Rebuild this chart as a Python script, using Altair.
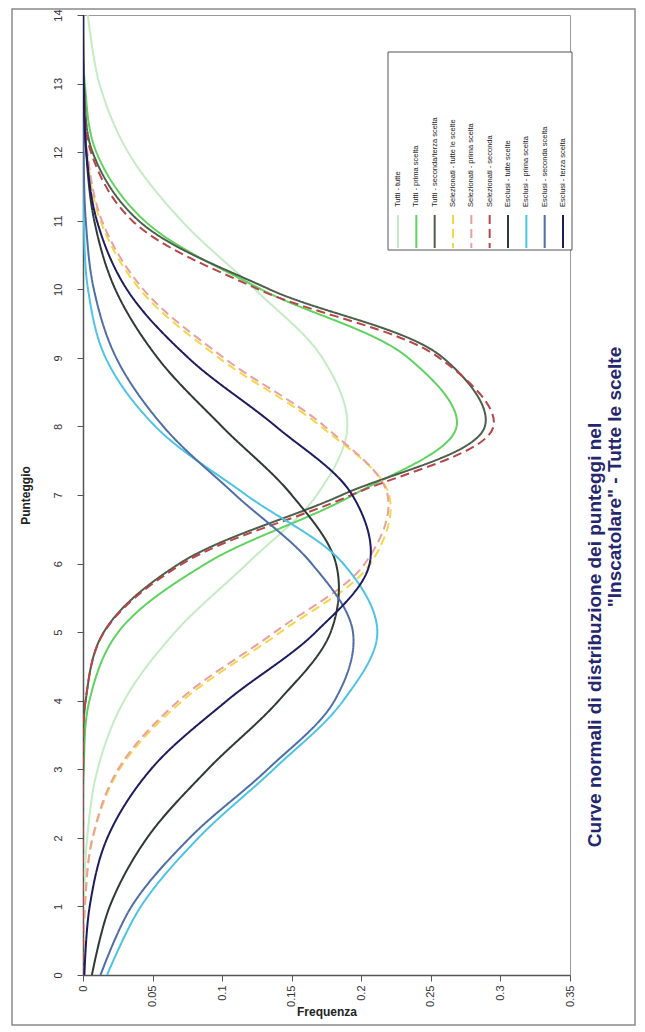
import altair as alt
import pandas as pd

punteggio = list(range(15))

series_names = [
    "Tutti - tutte",
    "Tutti - prima scelta",
    "Tutti - seconda/terza scelta",
    "Selezionati - tutte le scelte",
    "Selezionati - prima scelta",
    "Selezionati - seconda",
    "Esclusi - tutte scelte",
    "Esclusi - prima scelta",
    "Esclusi - seconda scelta",
    "Esclusi - terza scelta",
]

s_light_green = [0.0001, 0.0007, 0.0030, 0.0105, 0.0295, 0.0662, 0.1180, 0.1680, 0.1900, 0.1720, 0.1235, 0.0708, 0.0324, 0.0118, 0.0035]
s_green       = [0.0000, 0.0000, 0.0000, 0.0005, 0.0046, 0.0253, 0.0884, 0.1940, 0.2685, 0.2337, 0.1280, 0.0442, 0.0096, 0.0013, 0.0001]
s_dark_green  = [0.0000, 0.0000, 0.0000, 0.0001, 0.0019, 0.0149, 0.0693, 0.1860, 0.2888, 0.2588, 0.1340, 0.0400, 0.0069, 0.0007, 0.0000]
s_yellow      = [0.0002, 0.0014, 0.0071, 0.0263, 0.0715, 0.1420, 0.2066, 0.2200, 0.1710, 0.0976, 0.0408, 0.0125, 0.0028, 0.0005, 0.0001]
s_pink        = [0.0002, 0.0013, 0.0068, 0.0252, 0.0688, 0.1378, 0.2026, 0.2189, 0.1737, 0.1012, 0.0433, 0.0136, 0.0031, 0.0005, 0.0001]
s_red         = [0.0000, 0.0000, 0.0000, 0.0001, 0.0018, 0.0152, 0.0717, 0.1930, 0.2950, 0.2560, 0.1260, 0.0354, 0.0057, 0.0005, 0.0000]
s_dark_gray   = [0.0064, 0.0192, 0.0461, 0.0897, 0.1406, 0.1780, 0.1818, 0.1500, 0.0998, 0.0536, 0.0232, 0.0081, 0.0023, 0.0005, 0.0001]
s_cyan        = [0.0173, 0.0416, 0.0830, 0.1370, 0.1870, 0.2115, 0.1870, 0.1173, 0.0520, 0.0163, 0.0036, 0.0006, 0.0001, 0.0000, 0.0000]
s_steel       = [0.0126, 0.0349, 0.0767, 0.1327, 0.1807, 0.1940, 0.1643, 0.1096, 0.0577, 0.0239, 0.0078, 0.0020, 0.0004, 0.0001, 0.0000]
s_navy        = [0.0010, 0.0048, 0.0175, 0.0488, 0.1034, 0.1672, 0.2060, 0.1935, 0.1386, 0.0757, 0.0315, 0.0100, 0.0024, 0.0004, 0.0001]

all_series = [s_light_green, s_green, s_dark_green, s_yellow, s_pink, s_red,
              s_dark_gray, s_cyan, s_steel, s_navy]

colors = ["#c4ecc4", "#5fd35f", "#4d5e4a", "#f3d84a", "#eaa0a0", "#b8454a",
          "#2e3a34", "#4cc4e4", "#4f6ea6", "#1c1c5e"]
dashes = [[1, 0], [1, 0], [1, 0], [9, 5], [9, 5], [9, 5],
          [1, 0], [1, 0], [1, 0], [1, 0]]
widths = [2, 2, 2, 2.8, 2.8, 2.8, 2, 2, 2, 2]

freq_ticks = [0, 0.05, 0.1, 0.15, 0.2, 0.25, 0.3, 0.35]
punt_ticks = list(range(15))

title_lines = ["Curve normali di distribuzione dei punteggi nel",
               "\"Inscatolare\" - Tutte le scelte"]

rows = []
for name, vals in zip(series_names, all_series):
    for p, v in zip(punteggio, vals):
        rows.append({"series": name, "punteggio": p, "freq": v})
df = pd.DataFrame(rows)

FONT = "Liberation Sans"

color_scale = alt.Scale(domain=series_names, range=colors)
dash_scale = alt.Scale(domain=series_names, range=dashes)
width_scale = alt.Scale(domain=series_names, range=widths)

lines = alt.Chart(df).mark_line(interpolate="catmull-rom", clip=True).encode(
    x=alt.X("freq:Q", scale=alt.Scale(domain=[0, 0.35], nice=False, zero=True),
            axis=alt.Axis(values=freq_ticks, format=".2~f", labelAngle=270,
                          labelAlign="right", labelBaseline="middle",
                          labelPadding=4, title="Frequenza", titleAngle=0,
                          titleY=36, titleBaseline="middle", titleFontSize=12,
                          titleFontWeight="bold", grid=False)),
    y=alt.Y("punteggio:Q", scale=alt.Scale(domain=[0, 14], nice=False),
            axis=alt.Axis(values=punt_ticks, labelAngle=270,
                          labelAlign="center", labelBaseline="bottom",
                          labelPadding=14, title="Punteggio", titleAngle=270,
                          titleX=-58, titleY=480, titleAlign="center",
                          titleBaseline="middle", titleFontSize=12,
                          titleFontWeight="bold", grid=False)),
    color=alt.Color("series:N", scale=color_scale, legend=None),
    strokeDash=alt.StrokeDash("series:N", scale=dash_scale, legend=None),
    strokeWidth=alt.StrokeWidth("series:N", scale=width_scale, legend=None),
    order=alt.Order("punteggio:Q"),
)

leg_df = pd.DataFrame({"series": series_names})
leg_x = alt.X("series:N", sort=series_names,
              scale=alt.Scale(type="point", range=[315, 480], padding=0),
              axis=None)

box = alt.Chart(pd.DataFrame({"a": [0]})).mark_rect(
    fill="white", stroke="#555555", strokeWidth=1
).encode(x=alt.value(305), x2=alt.value(489), y=alt.value(37), y2=alt.value(235))

leg_rules = alt.Chart(leg_df).mark_rule().encode(
    x=leg_x, y=alt.value(200), y2=alt.value(233),
    color=alt.Color("series:N", scale=color_scale, legend=None),
    strokeDash=alt.StrokeDash("series:N", scale=dash_scale, legend=None),
    strokeWidth=alt.StrokeWidth("series:N", scale=width_scale, legend=None),
)
leg_text = alt.Chart(leg_df).mark_text(
    angle=270, align="left", baseline="middle", fontSize=7.5, font=FONT,
    color="#222222"
).encode(x=leg_x, y=alt.value(192), text="series:N")

legend = alt.layer(box, leg_rules, leg_text)

title_df = pd.DataFrame({"line": title_lines})
t1 = alt.Chart(title_df.iloc[[0]]).mark_text(
    angle=270, align="center", baseline="middle", fontSize=19,
    fontWeight="bold", font=FONT, color="#26266f"
).encode(x=alt.value(512), y=alt.value(620), text="line:N")
t2 = alt.Chart(title_df.iloc[[1]]).mark_text(
    angle=270, align="center", baseline="middle", fontSize=19,
    fontWeight="bold", font=FONT, color="#26266f"
).encode(x=alt.value(532), y=alt.value(462), text="line:N")

frame = alt.Chart(pd.DataFrame({"a": [0]})).mark_rect(
    fill=None, stroke="#8a8a8a", strokeWidth=1.5
).encode(x=alt.value(-71), x2=alt.value(552), y=alt.value(-6), y2=alt.value(1010))

chart = alt.layer(frame, lines, legend, t1, t2).resolve_scale(
    x="independent"
).properties(
    width=487, height=960,
    padding={"left": 75, "top": 7, "right": 67, "bottom": 55},
    autosize=alt.AutoSizeParams(type="none"),
    background="white",
).configure_view(
    stroke="#9a9a9a", strokeWidth=1
).configure_axis(
    labelFont=FONT, titleFont=FONT, labelFontSize=11, labelColor="#333333",
    titleColor="#222222", domainColor="#555555", tickColor="#555555",
    tickSize=6, domainWidth=1.5
)

chart.save("out.html", embed_options={"renderer": "svg", "actions": False})
